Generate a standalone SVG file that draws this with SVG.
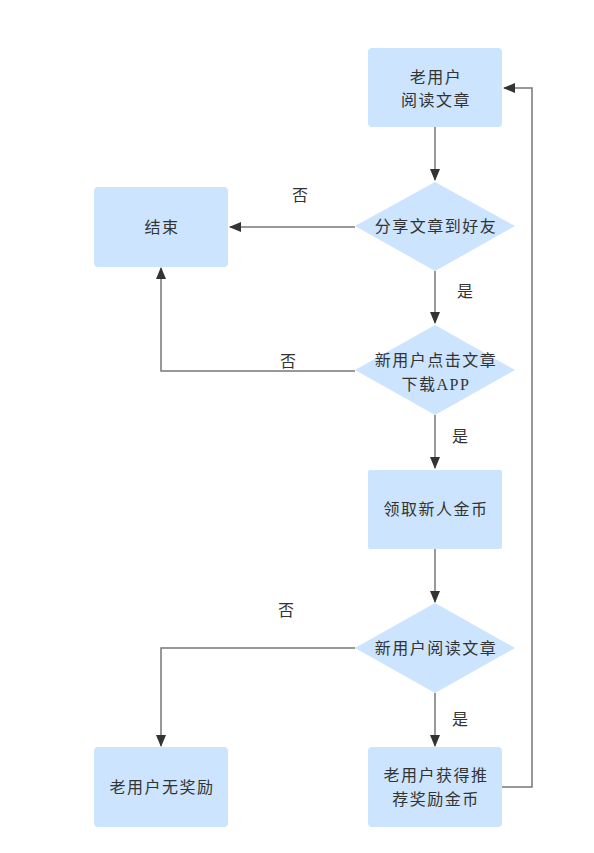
<svg xmlns="http://www.w3.org/2000/svg" width="594" height="853" viewBox="0 0 594 853">
<defs>
<style>
.box{fill:#cce4fd;stroke:none}
.t{font-family:"Liberation Serif","Noto Sans CJK SC",serif;font-size:16px;fill:#333;text-anchor:middle;letter-spacing:1.5px}
.l{font-family:"Liberation Serif","Noto Sans CJK SC",serif;font-size:16px;fill:#333;text-anchor:middle}
.c{fill:none;stroke:#777;stroke-width:1.5}
</style>
<marker id="a" markerWidth="12" markerHeight="10" refX="11" refY="5" orient="auto" markerUnits="userSpaceOnUse">
<path d="M0,0 L12,5 L0,10 Z" fill="#333"/>
</marker>
</defs>
<rect width="594" height="853" fill="#fff"/>
<g id="connectors">
<path class="c" d="M435,127 V180" marker-end="url(#a)"/>
<path class="c" d="M355,227 H230" marker-end="url(#a)"/>
<path class="c" d="M435,271 V323" marker-end="url(#a)"/>
<path class="c" d="M355,371 H161 V268" marker-end="url(#a)"/>
<path class="c" d="M435,415 V468" marker-end="url(#a)"/>
<path class="c" d="M435,549 V602" marker-end="url(#a)"/>
<path class="c" d="M355,648 H161 V746" marker-end="url(#a)"/>
<path class="c" d="M435,693 V746" marker-end="url(#a)"/>
<path class="c" d="M502,787 H532 V88 H504" marker-end="url(#a)"/>
<text class="l" x="300" y="201">否</text>
<text class="l" x="465" y="297">是</text>
<text class="l" x="288" y="367">否</text>
<text class="l" x="460" y="442">是</text>
<text class="l" x="286" y="616">否</text>
<text class="l" x="460" y="725">是</text>
</g>
<g id="n1">
<rect class="box" x="368" y="48" width="134" height="79" rx="4"/>
<text class="t" x="436" y="83">老用户</text>
<text class="t" x="436" y="106">阅读文章</text>
</g>
<g id="n2">
<polygon class="box" points="435,182 515,226 435,271 355,226"/>
<text class="t" x="436" y="232">分享文章到好友</text>
</g>
<g id="n3">
<rect class="box" x="94" y="187" width="134" height="80" rx="4"/>
<text class="t" x="162" y="233">结束</text>
</g>
<g id="n4">
<polygon class="box" points="435,325 515,370 435,415 355,370"/>
<text class="t" x="436" y="366">新用户点击文章</text>
<text class="t" x="436" y="390">下载APP</text>
</g>
<g id="n5">
<rect class="box" x="368" y="470" width="134" height="79" rx="2"/>
<text class="t" x="436" y="515">领取新人金币</text>
</g>
<g id="n6">
<polygon class="box" points="435,603 515,648 435,693 355,648"/>
<text class="t" x="436" y="654">新用户阅读文章</text>
</g>
<g id="n7">
<rect class="box" x="94" y="747" width="134" height="80" rx="4"/>
<text class="t" x="162" y="793">老用户无奖励</text>
</g>
<g id="n8">
<rect class="box" x="368" y="747" width="134" height="80" rx="4"/>
<text class="t" x="436" y="781">老用户获得推</text>
<text class="t" x="436" y="805">荐奖励金币</text>
</g>
</svg>
